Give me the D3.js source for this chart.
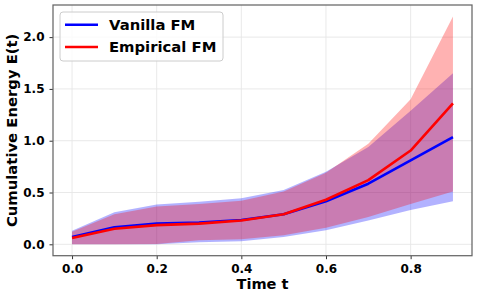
<!DOCTYPE html>
<html>
<head>
<meta charset="utf-8">
<script src="https://cdn.jsdelivr.net/npm/d3@7"></script>
<style>
  body { margin: 0; background: #fff; }
  svg { display: block; font-family: "DejaVu Sans", sans-serif; }
</style>
</head>
<body>
<svg id="chart" width="478" height="299"></svg>
<script>
// ---- data ----
const times = [0.0, 0.1, 0.2, 0.3, 0.4, 0.5, 0.6, 0.7, 0.8, 0.9];
const vanillaMean  = [0.07, 0.165, 0.20, 0.21, 0.235, 0.29, 0.415, 0.585, 0.81, 1.035];
const vanillaLower = [0.0, 0.0, 0.0, 0.02, 0.03, 0.07, 0.135, 0.23, 0.33, 0.415];
const vanillaUpper = [0.13, 0.31, 0.385, 0.41, 0.445, 0.525, 0.70, 0.94, 1.29, 1.65];
const empiricalMean  = [0.06, 0.15, 0.185, 0.20, 0.23, 0.29, 0.43, 0.62, 0.905, 1.36];
const empiricalLower = [0.0, 0.0, 0.003, 0.04, 0.05, 0.087, 0.16, 0.263, 0.39, 0.51];
const empiricalUpper = [0.12, 0.29, 0.365, 0.39, 0.42, 0.51, 0.69, 0.97, 1.40, 2.20];
const xTicks = [0.0, 0.2, 0.4, 0.6, 0.8];
const yTicks = [0.0, 0.5, 1.0, 1.5, 2.0];
const seriesNames = ["Vanilla FM", "Empirical FM"];
const seriesColors = ["#0000ff", "#ff0000"];

// ---- layout ----
const svg = d3.select("#chart");
const L = 53, R = 472, T = 5, B = 255.7;

const xMin = d3.min(times), xMax = d3.max(times);
const xPad = (xMax - xMin) * 0.05;
const allY = vanillaLower.concat(vanillaUpper, empiricalLower, empiricalUpper);
const yMin = d3.min(allY), yMax = d3.max(allY);
const yPad = (yMax - yMin) * 0.05;

const x = d3.scaleLinear().domain([xMin - xPad, xMax + xPad]).range([L, R]);
const y = d3.scaleLinear().domain([yMin - yPad, yMax + yPad]).range([B, T]);

// grid
const grid = svg.append("g");
grid.selectAll(".gx").data(xTicks).enter().append("line")
  .attr("x1", d => x(d)).attr("x2", d => x(d)).attr("y1", T).attr("y2", B)
  .attr("stroke", "#e6e6e6").attr("stroke-width", 0.9);
grid.selectAll(".gy").data(yTicks).enter().append("line")
  .attr("y1", d => y(d)).attr("y2", d => y(d)).attr("x1", L).attr("x2", R)
  .attr("stroke", "#e6e6e6").attr("stroke-width", 0.9);

// bands
const series = [
  {mean: vanillaMean, lo: vanillaLower, hi: vanillaUpper},
  {mean: empiricalMean, lo: empiricalLower, hi: empiricalUpper}
];
const area = d3.area().x((d, i) => x(times[i])).y0(d => y(d[0])).y1(d => y(d[1]));
series.forEach((s, k) => {
  svg.append("path")
    .datum(s.lo.map((v, i) => [v, s.hi[i]]))
    .attr("d", area)
    .attr("fill", seriesColors[k]).attr("fill-opacity", 0.3);
});
const line = d3.line().x((d, i) => x(times[i])).y(d => y(d));
series.forEach((s, k) => {
  svg.append("path").datum(s.mean).attr("d", line)
    .attr("fill", "none").attr("stroke", seriesColors[k])
    .attr("stroke-width", 2.6).attr("stroke-linejoin", "round");
});

// axes
const xAxis = svg.append("g").attr("transform", `translate(0,${B})`)
  .call(d3.axisBottom(x).tickValues(xTicks).tickFormat(d3.format(".1f")).tickSize(3.5).tickPadding(5));
const yAxis = svg.append("g").attr("transform", `translate(${L},0)`)
  .call(d3.axisLeft(y).tickValues(yTicks).tickFormat(d3.format(".1f")).tickSize(3.5).tickPadding(5));
[xAxis, yAxis].forEach(a => {
  a.select(".domain").remove();
  a.selectAll(".tick line").attr("stroke", "#333").attr("stroke-width", 1);
  a.selectAll(".tick text").attr("fill", "#000").attr("font-size", 12)
    .attr("font-weight", "bold").attr("font-family", "DejaVu Sans");
});

// spines
svg.append("rect").attr("x", L).attr("y", T).attr("width", R - L).attr("height", B - T)
  .attr("fill", "none").attr("stroke", "#666").attr("stroke-width", 1.25);

// axis titles
svg.append("text").attr("x", (L + R) / 2).attr("y", 289)
  .attr("text-anchor", "middle").attr("font-size", 14.6).attr("font-weight", "bold")
  .text("Time t");
svg.append("text")
  .attr("transform", `translate(17,${(T + B) / 2}) rotate(-90)`)
  .attr("text-anchor", "middle").attr("font-size", 14.8).attr("font-weight", "bold")
  .text("Cumulative Energy E(t)");

// legend
const lg = svg.append("g");
lg.append("rect").attr("x", 60).attr("y", 12).attr("width", 163).attr("height", 49)
  .attr("rx", 3).attr("fill", "#fff").attr("fill-opacity", 0.8)
  .attr("stroke", "#cccccc").attr("stroke-width", 1);
const legY = [24.7, 47];
seriesNames.forEach((n, i) => {
  lg.append("line").attr("x1", 65).attr("x2", 98).attr("y1", legY[i]).attr("y2", legY[i])
    .attr("stroke", seriesColors[i]).attr("stroke-width", 2.6);
  lg.append("text").attr("x", 109).attr("y", legY[i]).attr("dy", "0.36em")
    .attr("font-size", 14.8).attr("font-weight", "bold").text(n);
});
</script>
</body>
</html>
